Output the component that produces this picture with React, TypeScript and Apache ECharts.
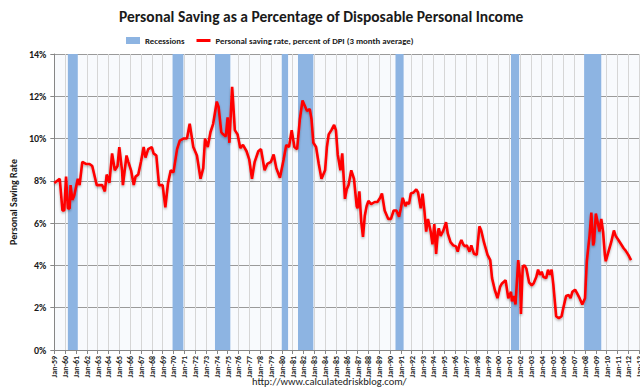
import React, { useEffect, useRef } from "react";
import * as echarts from "echarts";

const titleText = "Personal Saving as a Percentage of Disposable Personal Income";
const recessionName = "Recessions";
const seriesName = "Personal saving rate, percent of DPI (3 month average)";
const yAxisName = "Personal Saving Rate";
const sourceText = "http://www.calculatedriskblog.com/";

const recessionStarts = ["1960-04", "1969-12", "1973-11", "1980-01", "1981-07", "1990-07", "2001-03", "2007-12"];
const recessionEnds = ["1961-02", "1970-11", "1975-03", "1980-07", "1982-11", "1991-03", "2001-11", "2009-06"];

const months = [
  "1959-01", "1959-07", "1959-10", "1959-12", "1960-02", "1960-04", "1960-06", "1960-07", "1960-09", "1960-11",
  "1961-03", "1961-05", "1961-08", "1961-12", "1962-04", "1962-07", "1962-12", "1963-04", "1963-06", "1963-09",
  "1963-11", "1964-02", "1964-05", "1964-08", "1964-11", "1965-01", "1965-04", "1965-05", "1965-09", "1965-11",
  "1966-02", "1966-05", "1966-07", "1966-10", "1967-01", "1967-04", "1967-06", "1967-09", "1968-01", "1968-03",
  "1968-06", "1968-09", "1969-01", "1969-04", "1969-07", "1969-10", "1970-01", "1970-05", "1970-08", "1970-12",
  "1971-04", "1971-07", "1971-11", "1972-03", "1972-07", "1972-10", "1972-12", "1973-03", "1973-06", "1973-09",
  "1974-01", "1974-03", "1974-06", "1974-08", "1974-11", "1975-01", "1975-03", "1975-06", "1975-07", "1975-09",
  "1975-12", "1976-03", "1976-06", "1976-10", "1977-01", "1977-04", "1977-07", "1977-11", "1978-02", "1978-06",
  "1978-09", "1979-01", "1979-04", "1979-07", "1979-11", "1980-03", "1980-06", "1980-09", "1980-12", "1981-03",
  "1981-06", "1981-09", "1981-12", "1982-02", "1982-05", "1982-08", "1982-10", "1982-12", "1983-03", "1983-06",
  "1983-09", "1984-01", "1984-03", "1984-05", "1984-08", "1984-11", "1985-01", "1985-03", "1985-06", "1985-08",
  "1985-11", "1986-01", "1986-03", "1986-06", "1986-09", "1986-12", "1987-01", "1987-03", "1987-05", "1987-07",
  "1987-09", "1987-11", "1988-01", "1988-04", "1988-08", "1988-11", "1989-02", "1989-04", "1989-07", "1989-11",
  "1990-02", "1990-05", "1990-08", "1990-11", "1991-01", "1991-03", "1991-06", "1991-08", "1991-10", "1991-12",
  "1992-03", "1992-06", "1992-08", "1992-11", "1993-01", "1993-03", "1993-05", "1993-07", "1993-10", "1993-12",
  "1994-02", "1994-04", "1994-06", "1994-07", "1994-09", "1994-12", "1995-03", "1995-05", "1995-08", "1995-11",
  "1996-02", "1996-04", "1996-06", "1996-08", "1996-10", "1996-12", "1997-02", "1997-05", "1997-07", "1997-10",
  "1998-01", "1998-04", "1998-06", "1998-09", "1999-01", "1999-04", "1999-06", "1999-09", "1999-12", "2000-03",
  "2000-05", "2000-09", "2000-12", "2001-03", "2001-04", "2001-06", "2001-08", "2001-11", "2002-01", "2002-02",
  "2002-04", "2002-06", "2002-08", "2002-11", "2003-02", "2003-04", "2003-07", "2003-09", "2003-11", "2004-01",
  "2004-03", "2004-06", "2004-08", "2004-10", "2004-12", "2005-02", "2005-05", "2005-08", "2005-11", "2006-01",
  "2006-04", "2006-07", "2006-09", "2006-11", "2007-02", "2007-04", "2007-07", "2007-10", "2008-01", "2008-03",
  "2008-06", "2008-08", "2008-10", "2008-11", "2009-01", "2009-03", "2009-05", "2009-07", "2009-09", "2009-11",
  "2009-12", "2010-03", "2010-06", "2010-09", "2010-11", "2011-02", "2011-05", "2011-08", "2011-10", "2012-01",
  "2012-04",
];

const savingRate = [
  7.9, 8.1, 6.6, 6.6, 8.2, 6.7, 6.7, 7.8, 7.1, 7.3,
  8.1, 7.8, 8.9, 8.8, 8.8, 8.7, 7.8, 7.8, 7.8, 7.5,
  8.3, 7.9, 9.3, 8.5, 8.7, 9.6, 8.5, 7.8, 9.2, 8.9,
  8.5, 7.8, 8.2, 8.3, 8.9, 9.6, 9.1, 9.5, 9.6, 9.3,
  9.2, 7.8, 7.8, 6.75, 7.9, 8.5, 8.4, 9.5, 9.9, 10.0,
  10.0, 10.7, 9.6, 9.2, 8.1, 8.6, 10.0, 9.6, 10.3, 10.7,
  11.75, 11.5, 10.3, 10.2, 10.1, 11.0, 9.8, 12.45, 11.8, 10.4,
  10.2, 9.55, 9.7, 9.4, 9.0, 8.1, 8.9, 9.4, 9.5, 8.5,
  8.8, 8.9, 9.25, 8.6, 8.15, 9.0, 9.7, 9.6, 10.4, 9.6,
  9.5, 10.9, 11.8, 11.6, 11.3, 11.4, 10.9, 9.8, 9.6, 8.8,
  8.1, 8.5, 9.6, 10.2, 10.4, 10.65, 10.4, 9.25, 8.5, 9.3,
  7.15, 7.6, 7.8, 8.5, 8.1, 6.8, 6.7, 7.5, 6.1, 5.35,
  6.35, 6.8, 7.05, 6.9, 7.0, 7.0, 7.2, 7.4, 6.6, 6.2,
  6.2, 6.6, 6.6, 6.3, 6.7, 7.2, 6.8, 7.0, 6.9, 7.4,
  7.45, 7.6, 7.45, 6.7, 7.4, 6.6, 5.6, 6.2, 5.6, 5.0,
  5.95, 4.55, 5.6, 5.75, 5.4, 5.65, 6.05, 5.5, 5.1, 4.95,
  4.9, 4.65, 5.0, 5.2, 5.0, 4.9, 4.95, 4.65, 4.95, 4.55,
  4.5, 5.85, 5.65, 5.1, 4.5, 4.25, 3.4, 2.85, 2.45, 3.0,
  3.15, 3.3, 2.45, 2.75, 2.3, 2.55, 2.15, 4.25, 3.4, 1.7,
  3.95, 4.0, 3.85, 3.2, 3.05, 3.15, 3.45, 3.8, 3.55, 3.7,
  3.45, 3.4, 3.8, 3.55, 3.8, 3.05, 1.6, 1.5, 1.6, 2.0,
  2.55, 2.6, 2.45, 2.75, 2.85, 2.7, 2.45, 2.15, 2.45, 4.2,
  5.4, 6.5, 4.95, 5.1, 6.45, 6.05, 5.6, 6.2, 5.6, 4.5,
  4.2, 4.65, 5.1, 5.65, 5.4, 5.2, 5.0, 4.8, 4.7, 4.5,
  4.25,
];

const xMinYear = 1959;
const xMaxYear = 2014;

const FONT = "Carlito, Lato, 'Liberation Sans', sans-serif";

function monthStart(s: string): number {
  const [y, m] = s.split("-").map(Number);
  return y + (m - 1) / 12;
}
function monthEnd(s: string): number {
  const [y, m] = s.split("-").map(Number);
  return y + m / 12;
}

export default function App() {
  const ref = useRef<HTMLDivElement>(null);

  useEffect(() => {
    if (!ref.current) return;
    const chart = echarts.init(ref.current, undefined, { renderer: "svg" });
    const lineData = months.map((m, i) => [monthStart(m), savingRate[i]]);
    const areas = recessionStarts.map((s, i) => [
      { xAxis: monthStart(s) },
      { xAxis: monthEnd(recessionEnds[i]) },
    ]);
    chart.setOption({
      animation: false,
      backgroundColor: "#ffffff",
      title: {
        text: titleText,
        left: 114,
        top: 3,
        textStyle: { fontFamily: FONT, fontSize: 15.5, fontWeight: "bold", color: "#1a1a1a" },
      },
      legend: {
        left: 121,
        top: 31,
        itemWidth: 14,
        itemHeight: 7,
        itemGap: 12,
        textStyle: { fontFamily: FONT, fontSize: 8.8, fontWeight: "bold", color: "#1a1a1a" },
        data: [
          { name: recessionName, icon: "rect" },
          { name: seriesName, icon: "path://M0,0H14V3H0Z" },
        ],
      },
      grid: {
        left: 52,
        top: 54,
        width: 598,
        height: 296,
        show: true,
        backgroundColor: "#f8fafd",
        borderWidth: 0,
      },
      xAxis: {
        type: "value",
        min: xMinYear,
        max: xMaxYear,
        interval: 1,
        axisLine: { show: true, lineStyle: { color: "#868686", width: 1 } },
        axisTick: { show: true, length: 4, lineStyle: { color: "#868686" } },
        axisLabel: {
          rotate: 90,
          fontFamily: FONT,
          fontSize: 8,
          fontWeight: "bold",
          color: "#1a1a1a",
          margin: 6,
          formatter: (v: number) => "Jan-" + String(Math.round(v) % 100).padStart(2, "0"),
        },
        splitLine: { show: true, lineStyle: { color: "#d6d6d6", width: 1 } },
      },
      yAxis: {
        type: "value",
        min: 0,
        max: 14,
        interval: 2,
        name: yAxisName,
        nameLocation: "middle",
        nameRotate: 90,
        nameGap: 34,
        nameTextStyle: { fontFamily: FONT, fontSize: 10, fontWeight: "bold", color: "#1a1a1a" },
        axisLine: { show: true, lineStyle: { color: "#868686", width: 1 } },
        axisTick: { show: true, length: 4, lineStyle: { color: "#868686" } },
        axisLabel: {
          formatter: "{value}%",
          fontFamily: FONT,
          fontSize: 10,
          fontWeight: "bold",
          color: "#1a1a1a",
          margin: 8,
        },
        splitLine: { show: true, lineStyle: { color: "#9a9a9a", width: 1 } },
      },
      graphic: [
        {
          type: "text",
          left: 252,
          top: 376,
          style: { text: sourceText, fontFamily: FONT, fontSize: 10.5, fill: "#222222" },
        },
      ],
      series: [
        {
          name: recessionName,
          type: "line",
          data: [],
          color: "#8db4e2",
          z: 1,
          markArea: {
            silent: true,
            itemStyle: { color: "#8db4e2", opacity: 1 },
            data: areas,
          },
        },
        {
          name: seriesName,
          type: "line",
          data: lineData,
          symbol: "none",
          showSymbol: false,
          color: "#ff0000",
          z: 3,
          lineStyle: {
            width: 2.6,
            color: "#ff0000",
            shadowColor: "rgba(0,0,0,0.3)",
            shadowBlur: 2,
            shadowOffsetY: 1.5,
          },
        },
      ],
    });
    return () => chart.dispose();
  }, []);

  return (
    <div style={{ position: "fixed", left: 0, top: 0, width: 640, height: 390, overflow: "hidden", background: "#fff" }}>
      <div ref={ref} style={{ width: 680, height: 390 }} />
    </div>
  );
}
